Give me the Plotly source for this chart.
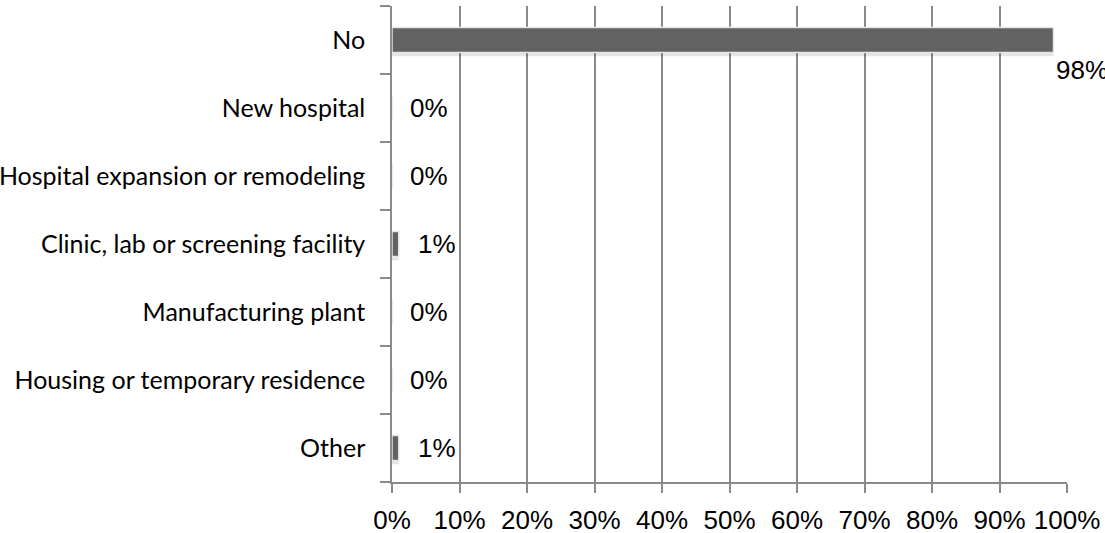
import plotly.graph_objects as go

categories = ["No", "New hospital", "Hospital expansion or remodeling",
              "Clinic, lab or screening facility", "Manufacturing plant",
              "Housing or temporary residence", "Other"]
values = [98, 0, 0, 1, 0, 0, 1]
x_ticks = list(range(0, 101, 10))
x_tick_labels = [f"{v}%" for v in x_ticks]
value_labels = [f"{v}%" for v in values]

# plot bottom-to-top so "No" is on top
cats_r = categories[::-1]
vals_r = values[::-1]
labs_r = value_labels[::-1]

fig = go.Figure()
# soft shadow
fig.add_trace(go.Bar(
    y=cats_r, x=vals_r, orientation="h", width=0.37,
    marker=dict(color="rgba(0,0,0,0.10)", line=dict(width=0)),
    offset=-0.24, hoverinfo="skip", showlegend=False,
))
fig.add_trace(go.Bar(
    y=cats_r, x=vals_r, orientation="h", width=0.37,
    marker=dict(color="#626262", line=dict(color="#e6e6e6", width=1.5)),
    offset=-0.185, showlegend=False,
))
fig.update_layout(barmode="overlay")

for c, v, t in zip(cats_r, vals_r, labs_r):
    if v >= 90:
        fig.add_annotation(x=v, y=c, text=t, showarrow=False, xanchor="left",
                           yanchor="middle", xshift=0, yshift=-30,
                           font=dict(family="Liberation Sans, Arial", size=26, color="#000"))
    else:
        fig.add_annotation(x=v, y=c, text=t, showarrow=False, xanchor="left",
                           yanchor="middle", xshift=17 if v > 0 else 16,
                           font=dict(family="Liberation Sans, Arial", size=26, color="#000"))

fig.update_layout(
    width=1105, height=533,
    margin=dict(l=392, r=38, t=6, b=51),
    paper_bgcolor="white", plot_bgcolor="white",
    xaxis=dict(range=[0, 100], tickvals=x_ticks, ticktext=x_tick_labels,
               showgrid=True, gridcolor="#8a8a8a", gridwidth=1.5,
               showline=True, linecolor="#8a8a8a", linewidth=1.5,
               ticks="outside", ticklen=9, tickcolor="#8a8a8a", tickwidth=1.5,
               tickfont=dict(family="Liberation Sans, Arial", size=26, color="#000"),
               ticklabelstandoff=5, automargin=False,
               zeroline=False, fixedrange=True),
    yaxis=dict(categoryorder="array", categoryarray=cats_r,
               showline=True, linecolor="#8a8a8a", linewidth=1.5,
               ticks="outside", ticklen=10, tickcolor="#8a8a8a", tickwidth=1.5,
               tickson="boundaries", showgrid=False,
               tickfont=dict(family="Lato, Calibri, sans-serif", size=25, color="#000"),
               ticklabelstandoff=20, automargin=False, fixedrange=True),
)

fig.write_html("out.html", config={"displayModeBar": False},
               post_script="document.body.style.margin='0px';document.body.style.overflow='hidden';")
